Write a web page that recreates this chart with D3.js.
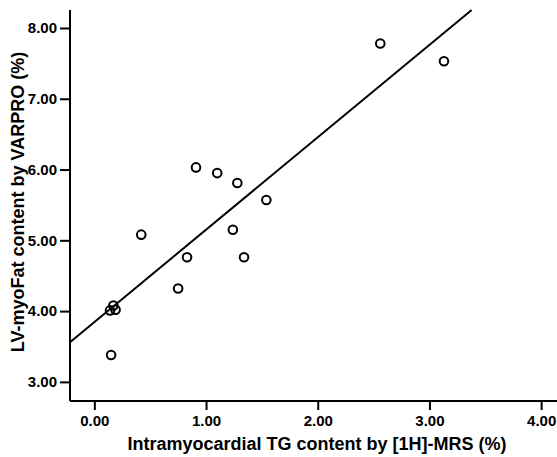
<!DOCTYPE html>
<html>
<head>
<meta charset="utf-8">
<script src="https://cdn.jsdelivr.net/npm/d3@7.9.0/dist/d3.min.js"></script>
<style>
  body { margin: 0; background: #fff; }
  svg text { font-family: "Liberation Sans", Arial, sans-serif; font-weight: bold; fill: #000; }
</style>
</head>
<body>
<svg id="chart" width="557" height="457"></svg>
<script>
// values
const tgMrs = [0.14, 0.17, 0.19, 0.15, 0.42, 0.75, 0.83, 0.91, 1.10, 1.24, 1.28, 1.34, 1.54, 2.56, 3.13];
const myoFat = [4.01, 4.08, 4.02, 3.38, 5.08, 4.32, 4.76, 6.03, 5.95, 5.15, 5.81, 4.76, 5.57, 7.78, 7.53];
const xTicks = [0, 1, 2, 3, 4];
const yTicks = [3, 4, 5, 6, 7, 8];

const points = tgMrs.map((x, i) => ({ x: x, y: myoFat[i] }));

const svg = d3.select('#chart');

const x = d3.scaleLinear().domain([-0.218, 4.142]).range([70, 557]);
const y = d3.scaleLinear().domain([2.73, 8.254]).range([401, 10]);

// least squares fit line
const mx = d3.mean(tgMrs), my = d3.mean(myoFat);
const slope = d3.sum(points, d => (d.x - mx) * (d.y - my)) / d3.sum(points, d => (d.x - mx) ** 2);
const intercept = my - slope * mx;

const x0 = x.domain()[0];
const x1 = Math.min(x.domain()[1], (y.domain()[1] - intercept) / slope);
svg.append('line')
  .attr('x1', x(x0)).attr('y1', y(intercept + slope * x0))
  .attr('x2', x(x1)).attr('y2', y(intercept + slope * x1))
  .attr('stroke', '#000').attr('stroke-width', 2);

svg.selectAll('circle')
  .data(points)
  .join('circle')
  .attr('cx', d => x(d.x))
  .attr('cy', d => y(d.y))
  .attr('r', 4.3)
  .attr('fill', 'none')
  .attr('stroke', '#000')
  .attr('stroke-width', 2);

// axes
const xAxis = svg.append('g')
  .attr('transform', 'translate(0,401)')
  .call(d3.axisBottom(x).tickValues(xTicks).tickFormat(d3.format('.2f')).tickSize(9).tickPadding(5));
const yAxis = svg.append('g')
  .attr('transform', 'translate(70,0)')
  .call(d3.axisLeft(y).tickValues(yTicks).tickFormat(d3.format('.2f')).tickSize(10).tickPadding(3));

[xAxis, yAxis].forEach(g => {
  g.select('.domain').attr('stroke', '#000').attr('stroke-width', 2);
  g.selectAll('.tick line').attr('stroke', '#000').attr('stroke-width', 2);
  g.selectAll('.tick text').style('font-size', '15px').style('font-family', '"Liberation Sans", Arial, sans-serif');
});
xAxis.select('.domain').attr('d', 'M70,0H557');
yAxis.select('.domain').attr('d', 'M0,10V401');

svg.append('text')
  .attr('x', 317).attr('y', 450)
  .attr('text-anchor', 'middle')
  .style('font-size', '18px')
  .text('Intramyocardial TG content by [1H]-MRS (%)');

svg.append('text')
  .attr('transform', 'translate(24,202) rotate(-90)')
  .attr('text-anchor', 'middle')
  .style('font-size', '18px')
  .text('LV-myoFat content by VARPRO (%)');
</script>
</body>
</html>
